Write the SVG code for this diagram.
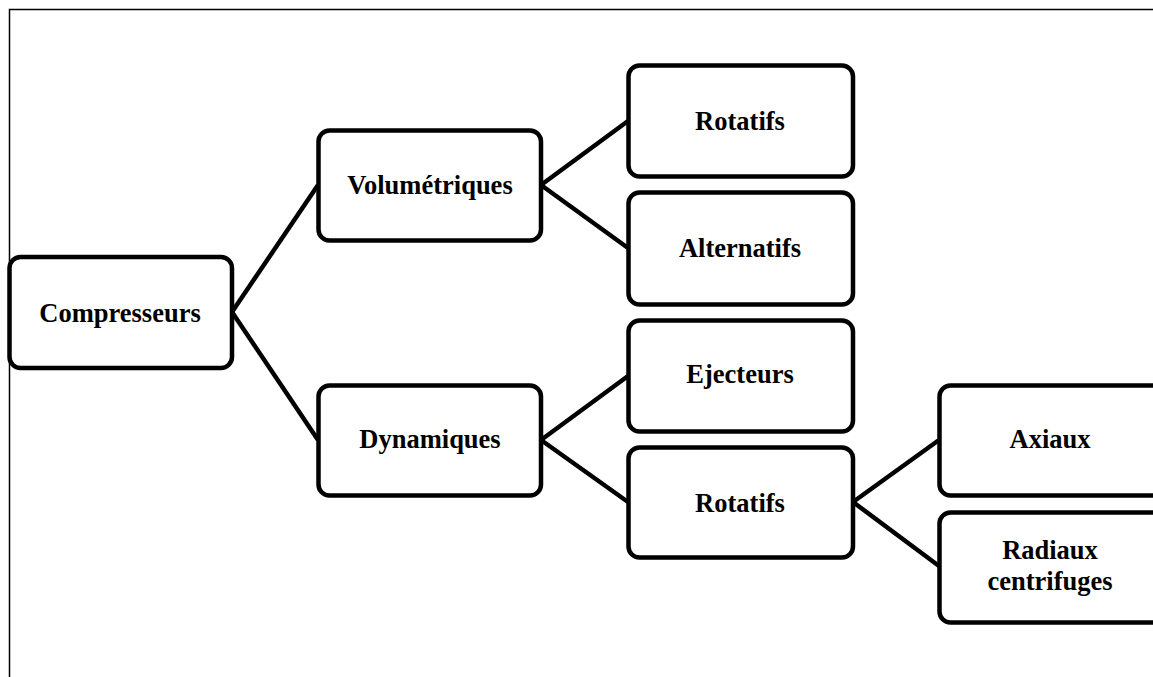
<svg xmlns="http://www.w3.org/2000/svg" width="1153" height="677" viewBox="0 0 1153 677">
<style>
.box{fill:#fff;stroke:#000;stroke-width:4.5}
.lbl{font-family:"Liberation Serif","Times New Roman",serif;font-weight:bold;font-size:26.5px;fill:#000;text-anchor:middle}
.con{stroke:#000;stroke-width:4.5;fill:none}
</style>
<rect x="0" y="0" width="1153" height="677" fill="#fff"/>
<path d="M9.5,677 V9.5 H1153" fill="none" stroke="#000" stroke-width="1.5"/>
<g id="connectors">
<line class="con" x1="232" y1="312" x2="318" y2="185"/>
<line class="con" x1="232" y1="312" x2="318" y2="440"/>
<line class="con" x1="541" y1="185" x2="628" y2="121"/>
<line class="con" x1="541" y1="185" x2="628" y2="248"/>
<line class="con" x1="541" y1="440" x2="628" y2="376"/>
<line class="con" x1="541" y1="440" x2="628" y2="502"/>
<line class="con" x1="853" y1="502" x2="939" y2="440"/>
<line class="con" x1="853" y1="502" x2="939" y2="566"/>
</g>
<g id="compresseurs">
<rect class="box" x="9.5" y="257" width="222.5" height="111" rx="11"/>
<text class="lbl" x="120" y="322">Compresseurs</text>
</g>
<g id="volumetriques">
<rect class="box" x="318.5" y="130.5" width="222.5" height="110" rx="11"/>
<text class="lbl" x="430" y="194">Volumétriques</text>
</g>
<g id="dynamiques">
<rect class="box" x="318.5" y="385.5" width="222.5" height="110" rx="11"/>
<text class="lbl" x="430" y="448">Dynamiques</text>
</g>
<g id="rotatifs-vol">
<rect class="box" x="628.5" y="65.5" width="224.5" height="111" rx="11"/>
<text class="lbl" x="740" y="130">Rotatifs</text>
</g>
<g id="alternatifs">
<rect class="box" x="628.5" y="192.5" width="224.5" height="112" rx="11"/>
<text class="lbl" x="740" y="257">Alternatifs</text>
</g>
<g id="ejecteurs">
<rect class="box" x="628.5" y="320.5" width="224.5" height="111" rx="11"/>
<text class="lbl" x="740" y="383">Ejecteurs</text>
</g>
<g id="rotatifs-dyn">
<rect class="box" x="628.5" y="447.5" width="224.5" height="110" rx="11"/>
<text class="lbl" x="740" y="512">Rotatifs</text>
</g>
<g id="axiaux">
<rect class="box" x="939.5" y="385.5" width="225" height="110" rx="11"/>
<text class="lbl" x="1050" y="448">Axiaux</text>
</g>
<g id="radiaux">
<rect class="box" x="939.5" y="512.5" width="225" height="110" rx="11"/>
<text class="lbl" x="1050" y="559">Radiaux</text>
<text class="lbl" x="1050" y="590">centrifuges</text>
</g>
</svg>
